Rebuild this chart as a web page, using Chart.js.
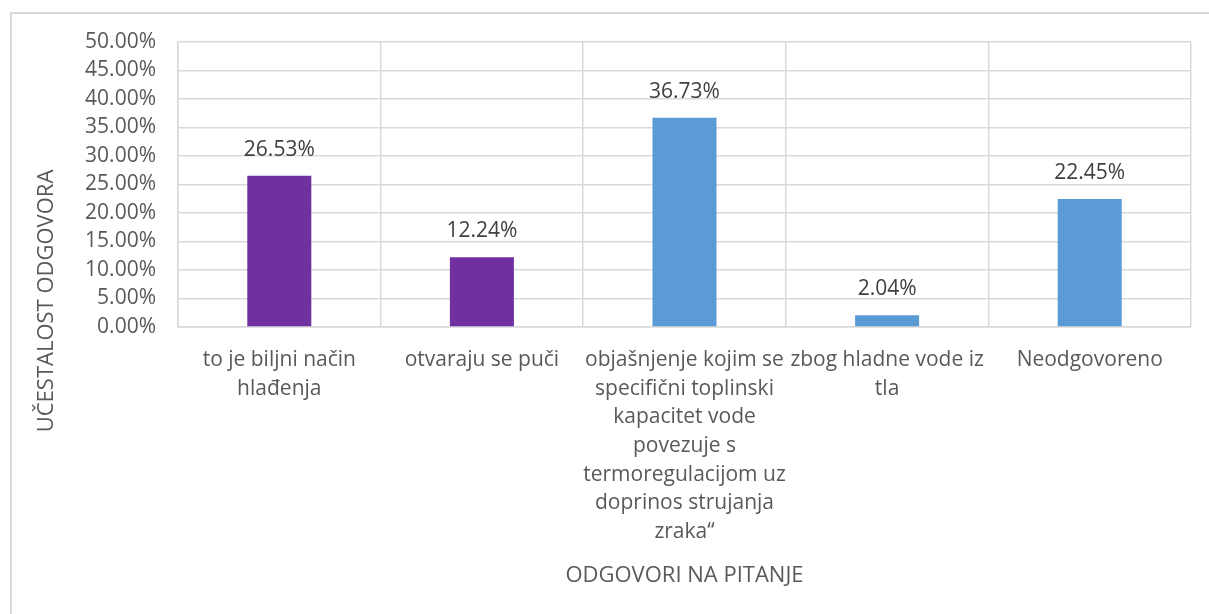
<!DOCTYPE html>
<html>
<head>
<meta charset="utf-8">
<script src="https://cdn.jsdelivr.net/npm/chart.js@4.4.1/dist/chart.umd.min.js"></script>
<style>
  html, body { margin: 0; padding: 0; background: #fff; overflow: hidden; }
  #wrap { position: relative; width: 1209px; height: 614px; }
  #frame { position: absolute; left: 10px; top: 12px; width: 1300px; height: 700px;
           border-left: 2px solid #d9d9d9; border-top: 2px solid #d9d9d9; }
  canvas { position: absolute; left: 0; top: 0; }
</style>
</head>
<body>
<div id="wrap">
  <div id="frame"></div>
  <canvas id="myChart" width="1209" height="614"></canvas>
</div>
<script>
const categories = [
    ['to je biljni način', 'hlađenja'],
    'otvaraju se puči',
    ['objašnjenje kojim se', 'specifični toplinski', 'kapacitet vode', 'povezuje s', 'termoregulacijom uz', 'doprinos strujanja', 'zraka“'],
    ['zbog hladne vode iz', 'tla'],
    'Neodgovoreno'
];
const shares = [26.53, 12.24, 36.73, 2.04, 22.45];
const barColors = ['#7030A0', '#7030A0', '#5B9BD5', '#5B9BD5', '#5B9BD5'];
const yTitle = 'UČESTALOST ODGOVORA';
const xTitle = 'ODGOVORI NA PITANJE';

const FONT = "'Open Sans', 'Noto Sans', sans-serif";

// value labels above the bars
const barValues = {
    id: 'barValues',
    afterDatasetsDraw(chart) {
        const ctx = chart.ctx;
        const meta = chart.getDatasetMeta(0);
        ctx.save();
        ctx.font = '21px ' + FONT;
        ctx.fillStyle = '#404040';
        ctx.textAlign = 'center';
        ctx.textBaseline = 'middle';
        meta.data.forEach((bar, i) => {
            ctx.fillText(shares[i].toFixed(2) + '%', bar.x, bar.y - 26);
        });
        ctx.restore();
    }
};

// axis titles, placed the way Excel does it
const axisTitles = {
    id: 'axisTitles',
    afterDraw(chart) {
        const ctx = chart.ctx;
        const area = chart.chartArea;
        ctx.save();
        ctx.font = '22px ' + FONT;
        ctx.fillStyle = '#595959';
        ctx.textAlign = 'center';
        ctx.textBaseline = 'middle';
        ctx.fillText(xTitle, (area.left + area.right) / 2, 576);
        ctx.translate(47, 301);
        ctx.rotate(-Math.PI / 2);
        ctx.fillText(yTitle, 0, 0);
        ctx.restore();
    }
};

const ctx = document.getElementById('myChart');
Chart.defaults.font.family = FONT;
Chart.defaults.color = '#595959';

new Chart(ctx, {
    type: 'bar',
    data: {
        labels: categories,
        datasets: [{
            data: shares,
            backgroundColor: barColors,
            borderWidth: 0,
            barPercentage: 0.316,
            categoryPercentage: 1
        }]
    },
    plugins: [barValues, axisTitles],
    options: {
        responsive: false,
        animation: false,
        layout: { padding: { left: 0, top: 42, right: 18, bottom: 0 } },
        plugins: {
            legend: { display: false },
            tooltip: { enabled: false }
        },
        scales: {
            x: {
                grid: { color: '#d9d9d9', lineWidth: 1.5, drawTicks: false, offset: true },
                border: { color: '#d9d9d9', width: 1.5 },
                ticks: {
                    autoSkip: false, maxRotation: 0, minRotation: 0,
                    padding: 19,
                    font: { size: 21, lineHeight: 1.36 },
                    color: '#595959'
                },
                afterFit: (scale) => { scale.height = 287; }
            },
            y: {
                min: 0,
                max: 50,
                grid: { color: '#d9d9d9', lineWidth: 1.5, drawTicks: false },
                border: { color: '#d9d9d9', width: 1.5 },
                ticks: {
                    stepSize: 5,
                    padding: 22,
                    font: { size: 21 },
                    color: '#595959',
                    callback: (v) => v.toFixed(2) + '%'
                },
                afterFit: (scale) => { scale.width = 178; }
            }
        }
    }
});
</script>
</body>
</html>
